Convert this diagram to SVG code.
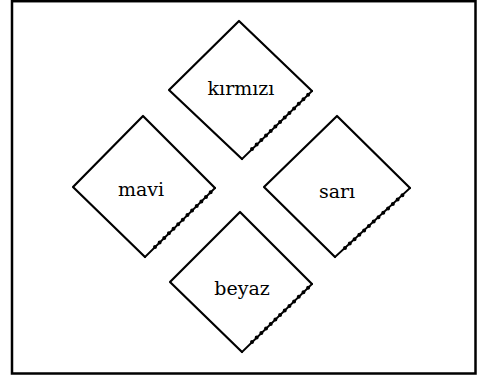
<svg xmlns="http://www.w3.org/2000/svg" width="477" height="378" viewBox="0 0 477 378">
  <style>
    .edge { fill: none; stroke: #000; stroke-width: 2.2; stroke-linejoin: round; stroke-linecap: round; }
    .rough { fill: none; stroke: #000; stroke-width: 1.8; stroke-linecap: round; }
    .beads { fill: none; stroke: #000; stroke-width: 4; stroke-linecap: round; stroke-dasharray: 0 6.5; }
    .label { font-family: "DejaVu Serif", "Liberation Serif", serif; font-size: 19px; fill: #000; text-anchor: middle; }
  </style>

  <!-- outer frame -->
  <rect x="12" y="1.2" width="463.5" height="372.3" fill="#fff" stroke="#000" stroke-width="2.5"/>

  <g id="connectors"></g>

  <!-- each diamond: three plain sides, lower-right side drawn rough -->
  <g id="kirmizi">
    <polyline class="edge" points="312,91 239,21 169,90 242,159"/>
    <line class="rough" x1="242" y1="159" x2="312" y2="91"/>
    <line class="beads" x1="252" y1="149" x2="309" y2="94"/>
    <text class="label" x="241" y="95">kırmızı</text>
  </g>

  <g id="mavi">
    <polyline class="edge" points="215,188 143,116 73,187 145,257"/>
    <line class="rough" x1="145" y1="257" x2="215" y2="188"/>
    <line class="beads" x1="155" y1="247" x2="212" y2="191"/>
    <text class="label" x="141" y="196">mavi</text>
  </g>

  <g id="sari">
    <polyline class="edge" points="410,188 337,116 264,187 335,257"/>
    <line class="rough" x1="335" y1="257" x2="410" y2="188"/>
    <line class="beads" x1="345" y1="248" x2="407" y2="191"/>
    <text class="label" x="337" y="198">sarı</text>
  </g>

  <g id="beyaz">
    <polyline class="edge" points="312,284 240,212 170,282 242,352"/>
    <line class="rough" x1="242" y1="352" x2="312" y2="284"/>
    <line class="beads" x1="252" y1="342" x2="309" y2="287"/>
    <text class="label" x="242" y="295">beyaz</text>
  </g>
</svg>
